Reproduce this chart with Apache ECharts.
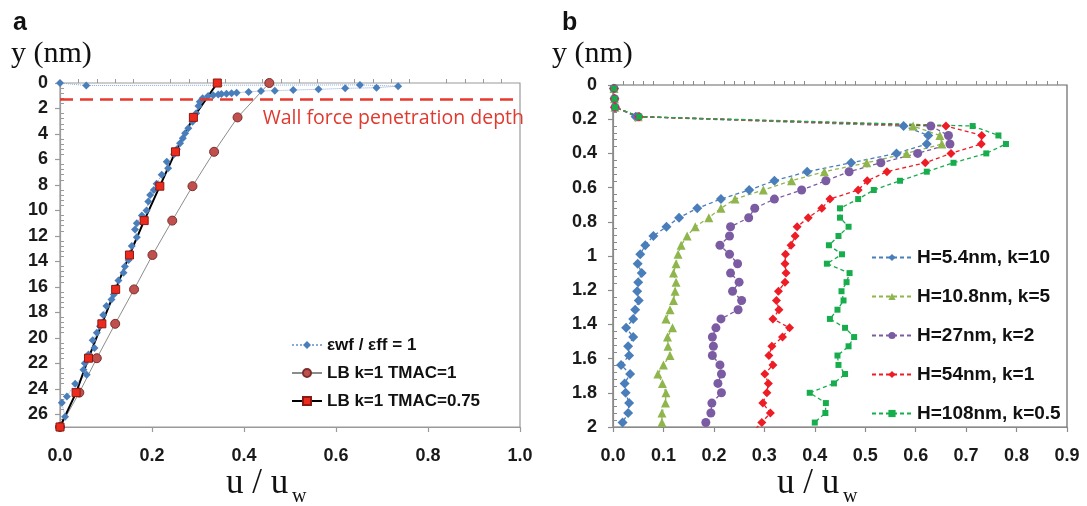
<!DOCTYPE html>
<html>
<head>
<meta charset="utf-8">
<script src="https://cdn.jsdelivr.net/npm/echarts@6/dist/echarts.min.js"></script>
<style>
html, body { margin: 0; padding: 0; background: #fff; }
#chart { width: 1087px; height: 506px; }
</style>
</head>
<body>
<div id="chart"></div>
<script>
// ---- panel a : velocity profiles across the channel ----
const wfX = [0, 0.057, 0.652, 0.735, 0.688, 0.62, 0.562, 0.507, 0.467, 0.437, 0.41, 0.384, 0.373, 0.362, 0.351, 0.344,
  0.333, 0.322, 0.31, 0.304, 0.301, 0.296, 0.288, 0.279, 0.272, 0.267, 0.261, 0.254, 0.248, 0.232, 0.235, 0.221,
  0.21, 0.204, 0.196, 0.192, 0.188, 0.178, 0.167, 0.163, 0.167, 0.156, 0.152, 0.149, 0.141, 0.138, 0.127, 0.12,
  0.117, 0.112, 0.101, 0.094, 0.087, 0.08, 0.071, 0.075, 0.062, 0.054, 0.051, 0.058, 0.033, 0.015, 0.004, 0.011, 0];
const wfY = [0, 0.2, 0.15, 0.25, 0.37, 0.42, 0.5, 0.55, 0.6, 0.63, 0.7, 0.76, 0.81, 0.84, 0.86, 0.91,
  0.96, 1.02, 1.2, 1.47, 1.8, 2.38, 3.04, 3.56, 3.95, 4.34, 4.73, 5.2, 5.6, 6.18, 6.7, 7.2,
  7.9, 8.4, 8.8, 9.3, 10.0, 10.4, 11.0, 11.5, 12.1, 12.8, 13.4, 13.9, 14.4, 14.9, 15.5, 16.1,
  16.6, 17.0, 17.5, 18.2, 19.1, 19.6, 20.2, 20.8, 21.3, 22.0, 22.5, 22.9, 23.6, 24.6, 25.1, 26.2, 27];

const lbY = [0, 2.7, 5.4, 8.1, 10.8, 13.5, 16.2, 18.9, 21.6, 24.3, 27];
const tmac1X = [0.455, 0.386, 0.335, 0.288, 0.244, 0.201, 0.161, 0.12, 0.08, 0.042, 0];
const tmac075X = [0.342, 0.29, 0.251, 0.217, 0.183, 0.151, 0.121, 0.091, 0.062, 0.035, 0];
const wallDepth = 1.26;

// ---- panel b : near-wall profiles for different channel sizes ----
const yRows = [0.02, 0.08, 0.13, 0.185, 0.24, 0.295, 0.345, 0.40, 0.455, 0.507, 0.56, 0.614, 0.667, 0.721,
  0.776, 0.829, 0.883, 0.937, 0.99, 1.045, 1.10, 1.153, 1.206, 1.26, 1.314, 1.368, 1.42, 1.474, 1.528,
  1.582, 1.637, 1.69, 1.745, 1.80, 1.86, 1.918, 1.974, 2.028];
const xH5 = [0.002, 0.003, 0.004, 0.045, 0.576, 0.625, 0.622, 0.562, 0.472, 0.385, 0.320, 0.270, 0.214, 0.167,
  0.131, 0.106, 0.080, 0.064, 0.054, 0.049, 0.057, 0.050, 0.048, 0.051, 0.044, 0.040, 0.026, 0.040, 0.030,
  0.032, 0.016, 0.034, 0.023, 0.025, 0.032, 0.030, 0.019];
const xH10 = [0.002, 0.003, 0.004, 0.05, 0.595, 0.648, 0.652, 0.582, 0.503, 0.419, 0.354, 0.298, 0.242, 0.214,
  0.190, 0.163, 0.147, 0.135, 0.129, 0.125, 0.120, 0.125, 0.123, 0.120, 0.113, 0.105, 0.118, 0.108, 0.109,
  0.113, 0.100, 0.089, 0.098, 0.105, 0.104, 0.097, 0.097];
const xH27 = [0.002, 0.003, 0.004, 0.05, 0.630, 0.665, 0.668, 0.604, 0.531, 0.468, 0.422, 0.374, 0.320, 0.281,
  0.269, 0.233, 0.231, 0.212, 0.231, 0.247, 0.233, 0.250, 0.237, 0.255, 0.248, 0.214, 0.204, 0.197, 0.199,
  0.197, 0.212, 0.215, 0.208, 0.215, 0.196, 0.194, 0.184];
const xH54 = [0.002, 0.003, 0.004, 0.052, 0.660, 0.731, 0.730, 0.670, 0.619, 0.543, 0.504, 0.486, 0.430, 0.414,
  0.387, 0.365, 0.361, 0.353, 0.342, 0.341, 0.343, 0.341, 0.328, 0.324, 0.329, 0.317, 0.350, 0.336, 0.315,
  0.309, 0.317, 0.301, 0.308, 0.305, 0.297, 0.312, 0.295, 0.277];
const xH108 = [0.002, 0.003, 0.004, 0.052, 0.713, 0.764, 0.779, 0.740, 0.675, 0.622, 0.569, 0.517, 0.486, 0.450,
  0.450, 0.467, 0.447, 0.428, 0.454, 0.424, 0.469, 0.463, 0.453, 0.457, 0.445, 0.430, 0.460, 0.478, 0.467,
  0.445, 0.447, 0.460, 0.438, 0.390, 0.422, 0.421, 0.400];

const namesA = ['εwf / εff = 1', 'LB k=1 TMAC=1', 'LB k=1 TMAC=0.75'];
const namesB = ['H=5.4nm, k=10', 'H=10.8nm, k=5', 'H=27nm, k=2', 'H=54nm, k=1', 'H=108nm, k=0.5'];

const pairs = (xs, ys) => xs.map((x, i) => [x, ys[i]]);

const FONT = 'Liberation Sans';
const SERIF = 'Liberation Serif';

const labelStyle = {
  fontFamily: FONT,
  fontWeight: 'bold',
  fontSize: 18,
  color: '#1a1a1a'
};

// main axis: line, outside major ticks, labels
function mainAxis(grid, opts, tickColor) {
  return Object.assign({
    type: 'value',
    gridIndex: grid,
    splitLine: { show: false },
    axisLine: { show: true, onZero: false, lineStyle: { color: tickColor, width: 1.2 } },
    axisTick: { show: true, length: 5, lineStyle: { color: tickColor, width: 1.2 } },
    minorTick: { show: false }
  }, opts);
}

// twin axis on a copy of the grid: only minor ticks, inside
function minorAxis(grid, opts, tickColor) {
  return Object.assign({
    type: 'value',
    gridIndex: grid,
    splitLine: { show: false },
    axisLine: { show: false },
    axisLabel: { show: false },
    axisTick: { show: false, inside: true },
    minorTick: { show: true, splitNumber: 5, length: 4, lineStyle: { color: tickColor, width: 1 } }
  }, opts);
}

const gridA = { left: 60, top: 83, width: 460, height: 344 };
const gridB = { left: 613, top: 85, width: 454, height: 342 };

const chart = echarts.init(document.getElementById('chart'));

chart.setOption({
  backgroundColor: '#fff',
  animation: false,
  grid: [
    Object.assign({ show: true, borderColor: '#9a9a9a', borderWidth: 1.2 }, gridA),
    Object.assign({ show: true, borderColor: '#666', borderWidth: 1.2 }, gridB),
    Object.assign({ show: false }, gridA),
    Object.assign({ show: false }, gridB)
  ],
  xAxis: [
    mainAxis(0, {
      min: 0, max: 1, interval: 0.2, position: 'bottom',
      axisLabel: Object.assign({ margin: 20, formatter: v => v.toFixed(1) }, labelStyle)
    }, '#9a9a9a'),
    mainAxis(1, {
      min: 0, max: 0.9, interval: 0.1, position: 'bottom',
      axisLabel: Object.assign({ margin: 20, formatter: v => v.toFixed(1) }, labelStyle)
    }, '#8a8a8a'),
    minorAxis(2, { min: 0, max: 1, interval: 0.2, position: 'bottom' }, '#9a9a9a'),
    minorAxis(3, { min: 0, max: 0.9, interval: 0.1, position: 'bottom' }, '#8a8a8a')
  ],
  yAxis: [
    mainAxis(0, {
      min: 0, max: 27, interval: 2, inverse: true, position: 'left',
      axisLabel: Object.assign({ margin: 12, showMaxLabel: false }, labelStyle)
    }, '#9a9a9a'),
    mainAxis(1, {
      min: 0, max: 2, interval: 0.2, inverse: true, position: 'left',
      axisLabel: Object.assign({ margin: 16, formatter: v => String(Math.round(v * 10) / 10) }, labelStyle)
    }, '#8a8a8a'),
    minorAxis(2, { min: 0, max: 27, interval: 2, inverse: true, position: 'left' }, '#9a9a9a'),
    minorAxis(3, { min: 0, max: 2, interval: 0.2, inverse: true, position: 'left' }, '#8a8a8a')
  ],
  legend: [
    {
      data: namesA,
      orient: 'vertical',
      left: 286,
      top: 331,
      itemWidth: 30,
      itemHeight: 10,
      itemGap: 10,
      textStyle: { fontFamily: FONT, fontWeight: 'bold', fontSize: 17, color: '#111', lineHeight: 18 }
    },
    {
      data: namesB,
      orient: 'vertical',
      left: 866,
      top: 243,
      itemWidth: 40,
      itemHeight: 9,
      itemGap: 20,
      textStyle: { fontFamily: FONT, fontWeight: 'bold', fontSize: 19, color: '#111', lineHeight: 18 }
    }
  ],
  graphic: [
    { type: 'text', left: 13, top: 11, style: { text: 'a', fontFamily: FONT, fontWeight: 'bold', fontSize: 25, fill: '#111' } },
    { type: 'text', left: 562, top: 11, style: { text: 'b', fontFamily: FONT, fontWeight: 'bold', fontSize: 25, fill: '#111' } },
    { type: 'text', left: 11, top: 39, style: { text: 'y (nm)', fontFamily: SERIF, fontSize: 30, fill: '#111' } },
    { type: 'text', left: 552, top: 39, style: { text: 'y (nm)', fontFamily: SERIF, fontSize: 30, fill: '#111' } },
    { type: 'text', left: 226, top: 466, style: { text: 'u / u', fontFamily: SERIF, fontSize: 35, fill: '#111' } },
    { type: 'text', left: 292, top: 487, style: { text: 'w', fontFamily: SERIF, fontSize: 20, fill: '#111' } },
    { type: 'text', left: 777, top: 466, style: { text: 'u / u', fontFamily: SERIF, fontSize: 35, fill: '#111' } },
    { type: 'text', left: 843, top: 487, style: { text: 'w', fontFamily: SERIF, fontSize: 20, fill: '#111' } }
  ],
  series: [
    {
      name: namesA[0], type: 'line', xAxisIndex: 0, yAxisIndex: 0,
      data: pairs(wfX, wfY),
      symbol: 'diamond', symbolSize: 8,
      itemStyle: { color: '#4a7ebb' },
      lineStyle: { color: '#8aaad6', width: 1, type: 'dotted' },
      markLine: {
        silent: true, symbol: 'none',
        data: [{ yAxis: wallDepth }],
        lineStyle: { color: '#e8392f', width: 2.5, type: [13, 7] },
        label: {
          show: true, position: 'insideEndBottom', distance: [-4, 9],
          formatter: 'Wall force penetration depth',
          color: '#e0392f', fontFamily: 'Open Sans', fontSize: 19.5
        }
      }
    },
    {
      name: namesA[1], type: 'line', xAxisIndex: 0, yAxisIndex: 0,
      data: pairs(tmac1X, lbY),
      symbol: 'circle', symbolSize: 9,
      itemStyle: { color: '#c0504d', borderColor: '#7a2f2d', borderWidth: 1 },
      lineStyle: { color: '#8c8c8c', width: 1 }
    },
    {
      name: namesA[2], type: 'line', xAxisIndex: 0, yAxisIndex: 0,
      data: pairs(tmac075X, lbY),
      symbol: 'rect', symbolSize: 8,
      itemStyle: { color: '#ec2a1e', borderColor: '#8b1a12', borderWidth: 1 },
      lineStyle: { color: '#000', width: 2 }
    },
    {
      name: namesB[0], type: 'line', xAxisIndex: 1, yAxisIndex: 1,
      data: pairs(xH5, yRows),
      symbol: 'diamond', symbolSize: 10,
      itemStyle: { color: '#4a7ebb' },
      lineStyle: { color: '#4a7ebb', width: 1.3, type: [4, 3] }
    },
    {
      name: namesB[1], type: 'line', xAxisIndex: 1, yAxisIndex: 1,
      data: pairs(xH10, yRows),
      symbol: 'triangle', symbolSize: 9,
      itemStyle: { color: '#8fb54d' },
      lineStyle: { color: '#8fb54d', width: 1.3, type: [4, 3] }
    },
    {
      name: namesB[2], type: 'line', xAxisIndex: 1, yAxisIndex: 1,
      data: pairs(xH27, yRows),
      symbol: 'circle', symbolSize: 9,
      itemStyle: { color: '#7b5ca3' },
      lineStyle: { color: '#7b5ca3', width: 1.3, type: [4, 3] }
    },
    {
      name: namesB[3], type: 'line', xAxisIndex: 1, yAxisIndex: 1,
      data: pairs(xH54, yRows),
      symbol: 'diamond', symbolSize: 9,
      itemStyle: { color: '#ee1c25' },
      lineStyle: { color: '#ee1c25', width: 1.3, type: [4, 3] }
    },
    {
      name: namesB[4], type: 'line', xAxisIndex: 1, yAxisIndex: 1,
      data: pairs(xH108, yRows),
      symbol: 'rect', symbolSize: 6,
      itemStyle: { color: '#17ad4d' },
      lineStyle: { color: '#17ad4d', width: 1.3, type: [4, 3] }
    }
  ]
});
</script>
</body>
</html>
